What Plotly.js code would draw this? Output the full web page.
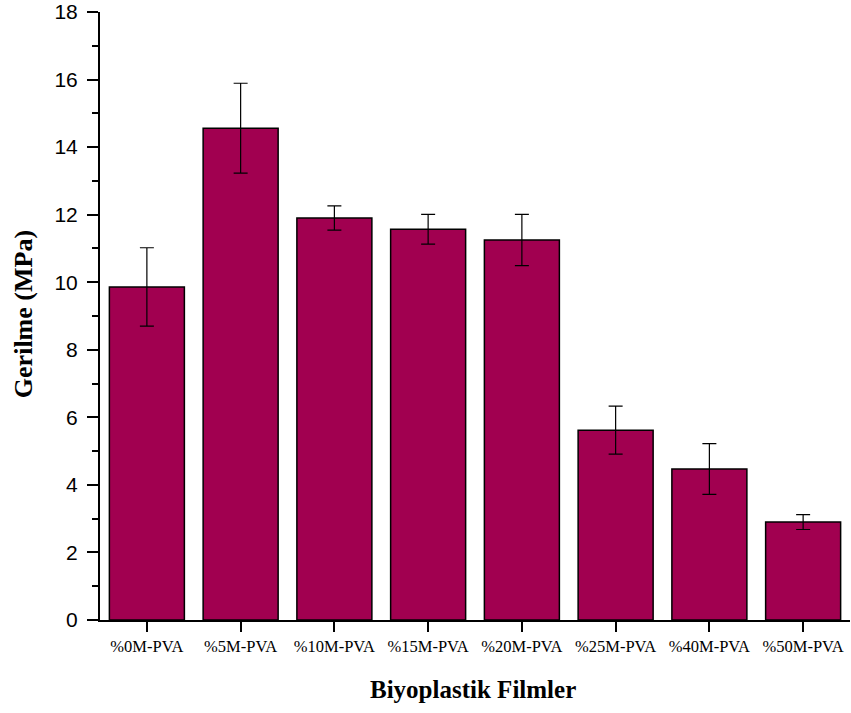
<!DOCTYPE html>
<html>
<head>
<meta charset="utf-8">
<script src="https://cdn.plot.ly/plotly-3.0.1.min.js"></script>
<style>html,body{margin:0;padding:0;background:#fff;}#chart{width:851px;height:713px;}</style>
</head>
<body>
<div id="chart"></div>
<script>
const categories = ["%0M-PVA","%5M-PVA","%10M-PVA","%15M-PVA","%20M-PVA","%25M-PVA","%40M-PVA","%50M-PVA"];
const stress = [9.86, 14.56, 11.90, 11.57, 11.25, 5.62, 4.47, 2.90];
const stressErr = [1.16, 1.33, 0.36, 0.44, 0.76, 0.71, 0.75, 0.22];
const xTitle = 'Biyoplastik Filmler';
const yTitle = 'Gerilme (MPa)';

const trace = {
  type: 'bar',
  x: categories,
  y: stress,
  width: 0.8,
  marker: {color: '#a10050', line: {color: '#000', width: 1.5}},
  error_y: {type: 'data', array: stressErr, visible: true, color: '#000', thickness: 1.2, width: 7}
};

const serif = 'Liberation Serif, Times New Roman, serif';
const layout = {
  width: 851, height: 713,
  margin: {l: 100, r: 1, t: 12, b: 93},
  paper_bgcolor: '#fff', plot_bgcolor: '#fff',
  showlegend: false,
  bargap: 0.2,
  xaxis: {
    range: [-0.5, 7.5],
    showline: true, linecolor: '#000', linewidth: 2,
    ticks: 'outside', ticklen: 10, tickwidth: 2, tickcolor: '#000',
    tickfont: {family: serif, size: 16.5, color: '#000'},
    showgrid: false, zeroline: false
  },
  yaxis: {
    range: [0, 18], dtick: 2,
    showline: true, linecolor: '#000', linewidth: 2,
    ticks: 'outside', ticklen: 11, tickwidth: 2, tickcolor: '#000',
    ticklabelstandoff: 5,
    minor: {dtick: 1, ticks: 'outside', ticklen: 6, tickwidth: 2, tickcolor: '#000'},
    tickfont: {family: 'Liberation Sans, Arial, sans-serif', size: 21, color: '#000'},
    showgrid: false, zeroline: false
  },
  annotations: [
    {text: '<b>' + xTitle + '</b>', xref: 'paper', yref: 'paper', x: 0.497, y: -0.1135,
     xanchor: 'center', yanchor: 'middle', showarrow: false,
     font: {family: serif, size: 25, color: '#000'}},
    {text: '<b>' + yTitle + '</b>', xref: 'paper', yref: 'paper', x: -0.1027, y: 0.503,
     xanchor: 'center', yanchor: 'middle', showarrow: false, textangle: -90,
     font: {family: serif, size: 26, color: '#000'}}
  ]
};

Plotly.newPlot('chart', [trace], layout, {displayModeBar: false, staticPlot: true});
</script>
</body>
</html>
